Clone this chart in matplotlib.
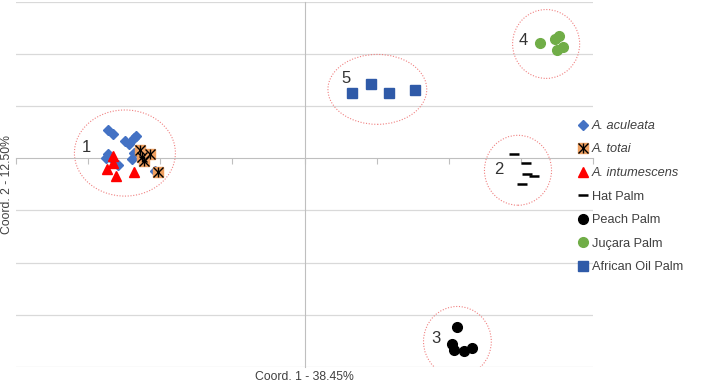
import matplotlib.pyplot as plt
from matplotlib.patches import Ellipse

plt.rcParams['font.family'] = ['Liberation Sans', 'DejaVu Sans']

# PCoA coordinates
aculeata_x = [-0.272, -0.266, -0.249, -0.243, -0.237, -0.234, -0.273, -0.270, -0.275, -0.258, -0.239, -0.236, -0.207]
aculeata_y = [0.055, 0.047, 0.034, 0.028, 0.038, 0.042, 0.008, 0.003, 0.000, -0.012, -0.001, 0.010, -0.024]
totai_x = [-0.228, -0.225, -0.223, -0.214, -0.203]
totai_y = [0.016, 0.002, -0.005, 0.008, -0.026]
intum_x = [-0.265, -0.266, -0.274, -0.262, -0.236]
intum_y = [0.005, -0.009, -0.021, -0.034, -0.026]
hat_x = [0.290, 0.307, 0.309, 0.318, 0.302]
hat_y = [0.008, -0.010, -0.031, -0.034, -0.050]
peach_x = [0.212, 0.205, 0.207, 0.221, 0.232]
peach_y = [-0.323, -0.356, -0.368, -0.370, -0.364]
jucara_x = [0.326, 0.347, 0.353, 0.350, 0.358]
jucara_y = [0.220, 0.229, 0.235, 0.207, 0.213]
oil_x = [0.066, 0.092, 0.117, 0.153]
oil_y = [0.125, 0.142, 0.125, 0.130]

# groups: label, centre, width, height, label position
groups = ["1", "2", "3", "4", "5"]
group_cx = [-0.249, 0.296, 0.212, 0.335, 0.101]
group_cy = [0.010, -0.023, -0.351, 0.219, 0.132]
group_w = [0.140, 0.093, 0.094, 0.093, 0.137]
group_h = [0.165, 0.134, 0.134, 0.132, 0.134]
label_x = [-0.302, 0.270, 0.182, 0.303, 0.058]
label_y = [0.021, -0.021, -0.345, 0.226, 0.153]

fig = plt.figure(figsize=(7.09, 3.84), dpi=100)
ax = fig.add_axes([16 / 709, 1 - 367 / 384, 577 / 709, 365.3 / 384])
ax.set_xlim(-0.4, 0.4)
ax.set_ylim(-0.4, 0.3)

for yy in [-0.4, -0.3, -0.2, -0.1, 0.1, 0.2, 0.3]:
    ax.axhline(yy, color='#d9d9d9', lw=0.9, zorder=0)

for s in ['top', 'right']:
    ax.spines[s].set_visible(False)
ax.spines['left'].set_position(('data', 0))
ax.spines['bottom'].set_position(('data', 0))
ax.spines['left'].set_color('#bfbfbf')
ax.spines['bottom'].set_color('#bfbfbf')
ax.set_xticks([-0.4, -0.3, -0.2, -0.1, 0, 0.1, 0.2, 0.3, 0.4])
ax.set_yticks([])
ax.tick_params(axis='x', direction='out', length=4, color='#bfbfbf', labelbottom=False)

h1, = ax.plot(aculeata_x, aculeata_y, 'D', color='#4472c4', ms=5, ls='none', zorder=3)
h2a, = ax.plot(totai_x, totai_y, 's', color='#f0a060', mec='#f0a060', ms=6.5, ls='none', zorder=4)
h2b, = ax.plot(totai_x, totai_y, 'x', color='black', ms=6.5, mew=1, ls='none', zorder=5)
h2c, = ax.plot(totai_x, totai_y, '|', color='black', ms=6.5, mew=1, ls='none', zorder=5)
h3, = ax.plot(intum_x, intum_y, '^', color='#ff0000', ms=6.5, ls='none', zorder=4)
h4, = ax.plot(hat_x, hat_y, '_', color='black', ms=7, mew=1.8, ls='none', zorder=3)
h5, = ax.plot(peach_x, peach_y, 'o', color='black', ms=7, ls='none', zorder=3)
h6, = ax.plot(jucara_x, jucara_y, 'o', color='#70ad47', ms=7, ls='none', zorder=3)
h7, = ax.plot(oil_x, oil_y, 's', color='#2f5aa8', ms=6.5, ls='none', zorder=3)

for i in range(len(groups)):
    ax.add_patch(Ellipse((group_cx[i], group_cy[i]), group_w[i], group_h[i],
                         fill=False, ec='#f08080', lw=0.8, ls=(0, (1, 1.5)), zorder=2))
    ax.text(label_x[i], label_y[i], groups[i], fontsize=12, color='#333333',
            ha='center', va='center', zorder=6)

fig.text(304 / 709, 1 - 377 / 384, 'Coord. 1 - 38.45%', ha='center', va='center',
         fontsize=8.8, color='#404040')
fig.text(7 / 709, 1 - 184 / 384, 'Coord. 2 - 12.50%', ha='center', va='center',
         rotation=90, fontsize=8.8, color='#404040')

leg = fig.legend([h1, (h2a, h2b, h2c), h3, h4, h5, h6, h7],
                 ['A. aculeata', 'A. totai', 'A. intumescens', 'Hat Palm',
                  'Peach Palm', 'Juçara Palm', 'African Oil Palm'],
                 loc='upper left', bbox_to_anchor=(578 / 709, 1 - 120 / 384),
                 frameon=False, fontsize=9.2, handlelength=0.8, handletextpad=0.3,
                 labelspacing=0.9, borderaxespad=0, borderpad=0)
for t in leg.get_texts()[:3]:
    t.set_fontstyle('italic')
for t in leg.get_texts():
    t.set_color('#404040')

fig.savefig('out.png', dpi=100)
